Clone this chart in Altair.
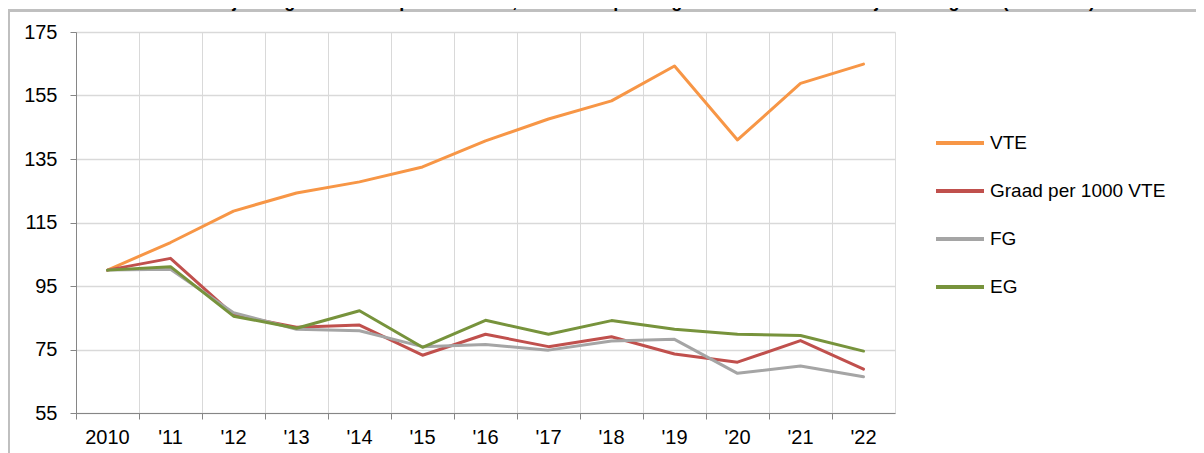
import altair as alt
import pandas as pd

years = ["2010", "'11", "'12", "'13", "'14", "'15", "'16", "'17", "'18", "'19", "'20", "'21", "'22"]
vte = [100, 108.7, 118.6, 124.3, 127.8, 132.5, 140.7, 147.6, 153.3, 164.3, 141.0, 158.8, 164.9]
graad = [100, 103.7, 85.9, 82.0, 82.7, 73.2, 79.8, 75.9, 79.0, 73.6, 71.0, 77.8, 68.8]
fg = [100, 100.3, 86.6, 81.4, 80.9, 75.9, 76.6, 74.8, 77.7, 78.2, 67.5, 69.8, 66.4]
eg = [100, 101.1, 85.5, 81.7, 87.2, 75.7, 84.2, 79.8, 84.1, 81.4, 79.8, 79.4, 74.5]

series_names = ["VTE", "Graad per 1000 VTE", "FG", "EG"]
series_colors = ["#F79646", "#C0504D", "#A5A5A5", "#77933C"]
y_ticks = [55, 75, 95, 115, 135, 155, 175]
title_text = "lijke ongeschiktheid per 1000 VTE, van de frequentiegraad en van de werkelijke ernstgraad (2010=100)"

rows = []
for name, vals in zip(series_names, [vte, graad, fg, eg]):
    for i, (yr, v) in enumerate(zip(years, vals)):
        rows.append({"jaar": yr, "waarde": v, "reeks": name, "idx": i})
df = pd.DataFrame(rows)

FONT = "Liberation Sans"

lines = alt.Chart(df).mark_line(strokeWidth=3, strokeJoin="round", strokeCap="round").encode(
    x=alt.X("jaar:N", sort=years,
            scale=alt.Scale(type="band", paddingInner=0, paddingOuter=0),
            axis=alt.Axis(title=None, labelAngle=0, bandPosition=0,
                          grid=True, gridColor="#D9D9D9", gridWidth=1,
                          domainColor="#868686", tickColor="#868686", tickSize=6,
                          labelPadding=8, labelFontSize=20, labelFont=FONT, labelColor="#000000")),
    y=alt.Y("waarde:Q", scale=alt.Scale(domain=[55, 175], nice=False, zero=False),
            axis=alt.Axis(title=None, values=y_ticks, grid=True, gridColor="#D9D9D9", gridWidth=1.5,
                          domainColor="#868686", tickColor="#868686", tickSize=6,
                          labelPadding=13, labelFontSize=20, labelFont=FONT, labelColor="#000000")),
    color=alt.Color("reeks:N", sort=series_names,
                    scale=alt.Scale(domain=series_names, range=series_colors),
                    legend=alt.Legend(title=None, orient="none", legendX=858, legendY=85,
                                      symbolType="stroke", symbolSize=2304, symbolStrokeWidth=4,
                                      labelFontSize=19, labelFont=FONT, labelColor="#000000",
                                      labelLimit=400, labelOffset=4, rowPadding=12, symbolOffset=0)),
    order=alt.Order("idx:Q"),
)

frame_top = alt.Chart(df).mark_rule(color="#BFBFBF", strokeWidth=1.5).encode(
    x=alt.value(-67.5), x2=alt.value(1120), y=alt.value(-21.5))
frame_left = alt.Chart(df).mark_rule(color="#BFBFBF", strokeWidth=1.5).encode(
    x=alt.value(-67.5), y=alt.value(-21.5), y2=alt.value(421))

title = alt.Chart(pd.DataFrame({"t": [title_text]})).mark_text(
    align="right", baseline="alphabetic", fontSize=18, fontWeight="bold", font=FONT, color="#000000"
).encode(text="t:N", x=alt.value(1019), y=alt.value(-25))

chart = alt.layer(frame_top, frame_left, lines, title).properties(
    width=819, height=381,
    autosize=alt.AutoSizeParams(type="none"),
    padding={"left": 68, "top": 24, "right": 301, "bottom": 40},
).configure_view(stroke="#6F93C9", strokeWidth=1.2).configure(background="#FFFFFF")

chart.save("out.html", embed_options={"renderer": "svg", "actions": False})
